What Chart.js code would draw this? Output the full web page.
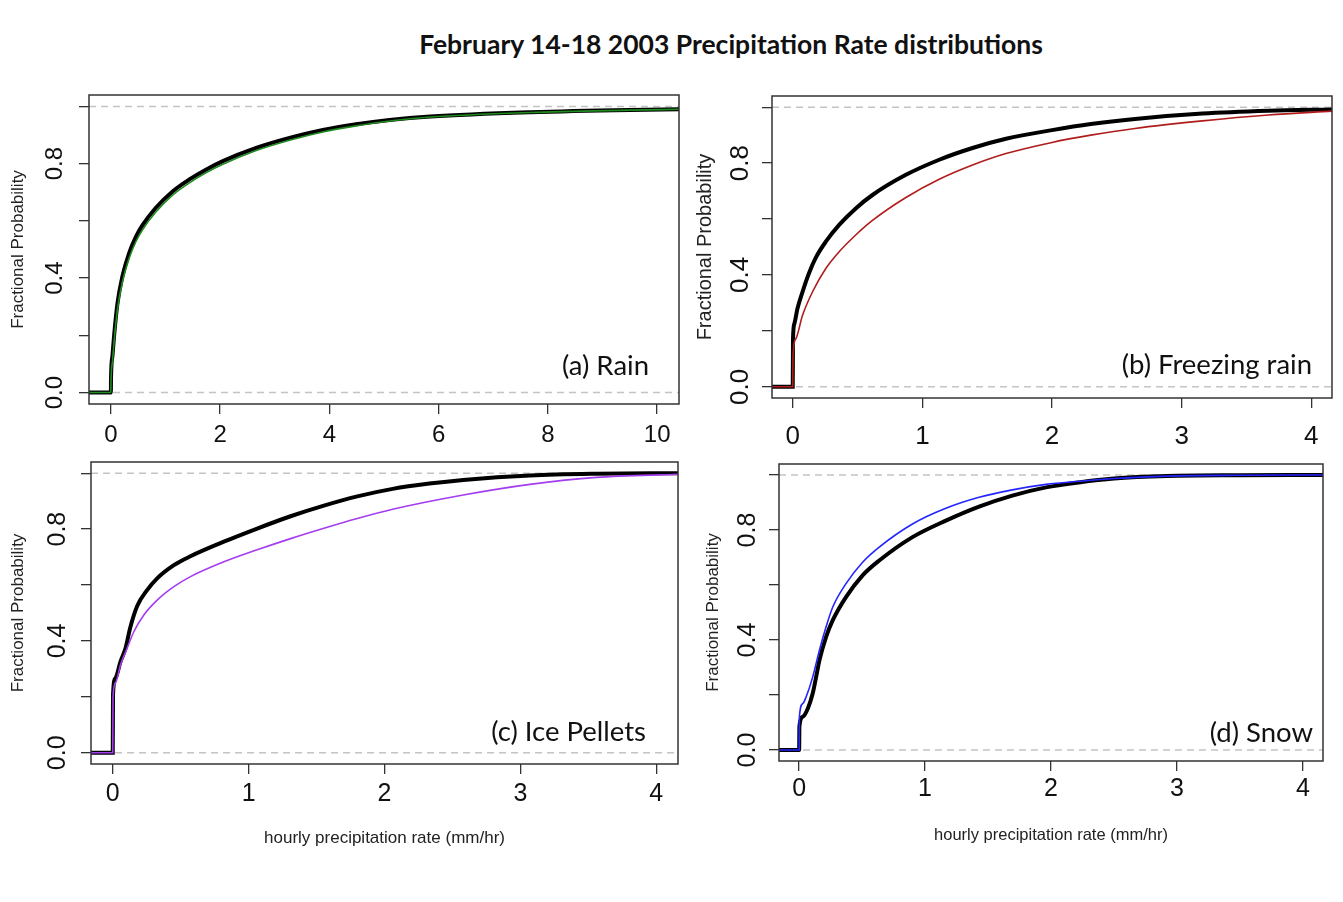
<!DOCTYPE html>
<html>
<head>
<meta charset="utf-8">
<script src="https://cdn.jsdelivr.net/npm/chart.js@4.4.0/dist/chart.umd.min.js"></script>
<style>
  body { margin: 0; background: #fff; width: 1343px; height: 902px; position: relative; overflow: hidden; }
  canvas { position: absolute; left: 0; top: 0; }
  #main_title { position: absolute; top: 28px; left: 731px; transform: translateX(-50%);
                font: bold 26.5px Lato, sans-serif; white-space: nowrap; color: #111; }
</style>
</head>
<body>
<div id="main_title">February 14-18 2003 Precipitation Rate distributions</div>
<canvas id="rain" width="1343" height="902"></canvas>
<canvas id="freezing" width="1343" height="902"></canvas>
<canvas id="pellets" width="1343" height="902"></canvas>
<canvas id="snow" width="1343" height="902"></canvas>
<script>
// Axis ticks
const yTicks = [0, 0.2, 0.4, 0.6, 0.8, 1.0];
const yLabels = [0, 0.4, 0.8];
const rainTicks = [0, 2, 4, 6, 8, 10];
const rateTicks = [0, 1, 2, 3, 4];

// (a) Rain - black and green curves (rate mm/hr, fractional probability)
const rainBlackX = [-0.4, 0, 0.003, 0.03, 0.06, 0.12, 0.21, 0.33, 0.46, 0.58, 0.82, 1.13, 1.43, 1.74, 2.04, 2.66, 3.27, 3.88, 4.49, 5.1, 5.85, 7.68, 9.5, 10.4];
const rainBlackP = [0, 0, 0.05, 0.13, 0.2, 0.31, 0.405, 0.485, 0.545, 0.585, 0.645, 0.703, 0.744, 0.779, 0.808, 0.855, 0.89, 0.918, 0.938, 0.953, 0.965, 0.98, 0.988, 0.99];
const rainGreenX = [-0.4, 0, 0.003, 0.03, 0.06, 0.12, 0.21, 0.33, 0.46, 0.58, 0.82, 1.13, 1.43, 1.74, 2.04, 2.66, 3.27, 3.88, 4.49, 5.1, 5.85, 7.68, 9.5, 10.4];
const rainGreenP = [0, 0, 0.04, 0.11, 0.18, 0.29, 0.385, 0.467, 0.528, 0.569, 0.63, 0.69, 0.732, 0.768, 0.797, 0.846, 0.882, 0.911, 0.932, 0.949, 0.963, 0.979, 0.987, 0.99];

// (b) Freezing rain - black and red curves
const frzBlackX = [-0.16, 0, 0.002, 0.012, 0.036, 0.075, 0.126, 0.178, 0.255, 0.358, 0.486, 0.615, 0.873, 1.13, 1.387, 1.645, 2.0, 2.3, 2.64, 3.16, 3.67, 4.16];
const frzBlackP = [0, 0, 0.17, 0.225, 0.279, 0.339, 0.407, 0.462, 0.519, 0.579, 0.638, 0.686, 0.758, 0.812, 0.854, 0.887, 0.918, 0.94, 0.958, 0.977, 0.987, 0.992];
const frzRedX = [-0.16, 0, 0.002, 0.023, 0.075, 0.152, 0.255, 0.358, 0.486, 0.615, 0.873, 1.13, 1.387, 1.645, 2.0, 2.3, 2.64, 3.16, 3.67, 4.16];
const frzRedP = [0, 0, 0.111, 0.171, 0.255, 0.339, 0.423, 0.483, 0.543, 0.595, 0.677, 0.742, 0.793, 0.834, 0.874, 0.9, 0.924, 0.951, 0.972, 0.986];

// (c) Ice pellets - black and purple curves
const iceBlackX = [-0.16, 0, 0.002, 0.02, 0.057, 0.094, 0.13, 0.18, 0.253, 0.327, 0.45, 0.572, 0.818, 1.063, 1.309, 1.554, 1.8, 2.06, 2.33, 2.58, 3.07, 3.56, 4.16];
const iceBlackP = [0, 0, 0.207, 0.267, 0.326, 0.374, 0.45, 0.525, 0.582, 0.624, 0.671, 0.703, 0.755, 0.802, 0.846, 0.884, 0.917, 0.944, 0.963, 0.976, 0.992, 0.998, 1.0];
const icePurpleX = [-0.16, 0, 0.002, 0.02, 0.057, 0.106, 0.155, 0.229, 0.327, 0.45, 0.572, 0.818, 1.063, 1.309, 1.554, 1.8, 2.06, 2.58, 3.07, 3.56, 4.16];
const icePurpleP = [0, 0, 0.2, 0.25, 0.314, 0.374, 0.433, 0.493, 0.546, 0.594, 0.63, 0.683, 0.726, 0.766, 0.803, 0.838, 0.871, 0.922, 0.96, 0.985, 0.996];

// (d) Snow - black and blue curves
const snowBlackX = [-0.16, 0, 0.002, 0.029, 0.069, 0.108, 0.135, 0.161, 0.214, 0.267, 0.372, 0.504, 0.636, 0.9, 1.165, 1.429, 1.693, 1.96, 2.22, 2.5, 2.92, 3.5, 4.16];
const snowBlackP = [0, 0, 0.085, 0.121, 0.151, 0.206, 0.266, 0.326, 0.411, 0.472, 0.556, 0.635, 0.689, 0.774, 0.834, 0.885, 0.925, 0.955, 0.973, 0.987, 0.996, 0.999, 1.0];
const snowBlueX = [-0.16, 0, 0.002, 0.029, 0.055, 0.108, 0.161, 0.214, 0.267, 0.372, 0.504, 0.636, 0.9, 1.165, 1.429, 1.693, 1.96, 2.22, 2.5, 2.92, 3.5, 4.16];
const snowBlueP = [0, 0, 0.121, 0.169, 0.193, 0.266, 0.363, 0.448, 0.52, 0.605, 0.683, 0.738, 0.822, 0.879, 0.919, 0.946, 0.966, 0.977, 0.987, 0.996, 0.999, 1.0];

const TICK_FONT = '"Liberation Sans", Arial, sans-serif';

// Draws the box, rotated y labels, x labels, axis titles and the panel name
const panel_text = {
  id: 'panel_text',
  afterDraw(chart) {
    const o = chart.options.plugins.panel_text;
    const ctx = chart.ctx, area = chart.chartArea;
    const xs = chart.scales.x, ys = chart.scales.y;
    ctx.save();
    ctx.strokeStyle = '#333';
    ctx.lineWidth = 1.5;
    ctx.strokeRect(area.left, area.top, area.right - area.left, area.bottom - area.top);

    ctx.fillStyle = '#111';
    ctx.textAlign = 'center';
    ctx.textBaseline = 'middle';
    ctx.font = o.tickSize + 'px ' + TICK_FONT;
    yLabels.forEach(v => {
      ctx.save();
      ctx.translate(area.left - o.yLabOff, ys.getPixelForValue(v));
      ctx.rotate(-Math.PI / 2);
      ctx.fillText(v.toFixed(1), 0, 0);
      ctx.restore();
    });
    o.xTicks.forEach(v => ctx.fillText(String(v), xs.getPixelForValue(v), area.bottom + o.xLabOff));

    // y title
    ctx.font = o.titleSize + 'px ' + TICK_FONT;
    ctx.fillStyle = '#222';
    ctx.save();
    ctx.translate(area.left - o.yTitleOff, (area.top + area.bottom) / 2);
    ctx.rotate(-Math.PI / 2);
    ctx.fillText('Fractional Probability', 0, 0);
    ctx.restore();
    if (o.xTitle) {
      ctx.font = o.xTitleSize + 'px ' + TICK_FONT;
      ctx.fillText(o.xTitle, (area.left + area.right) / 2, area.bottom + o.xTitleOff);
    }

    // panel name
    ctx.fillStyle = '#111';
    ctx.font = '27.5px Lato, sans-serif';
    ctx.textAlign = 'right';
    ctx.fillText(o.label, area.right - o.labRight, area.bottom - o.labUp);
    ctx.restore();
  }
};

function to_points(xs, ps) {
  return xs.map((x, i) => ({x: x, y: ps[i]}));
};

function make_panel(canvas_id, box, xMin, xMax, xTicks, blackX, blackP, colX, colP, colour, text) {

  const dash = y => ({
    data: [{x: xMin, y: y}, {x: xMax, y: y}],
    borderColor: '#c4c4c4', borderWidth: 1.6, borderDash: [7, 5],
    pointRadius: 0, order: 3
  });

  text.xTicks = xTicks;

  new Chart(document.getElementById(canvas_id), {
    type: 'line',
    data: {
      datasets: [
        {
          data: to_points(colX, colP),
          borderColor: colour, borderWidth: 1.6,
          pointRadius: 0, cubicInterpolationMode: 'monotone', order: 1
        },
        {
          data: to_points(blackX, blackP),
          borderColor: '#000', borderWidth: 4,
          pointRadius: 0, cubicInterpolationMode: 'monotone', order: 2
        },
        dash(0),
        dash(1)
      ]
    },
    options: {
      responsive: false,
      animation: false,
      events: [],
      layout: {
        padding: {left: box.l - 10, top: box.t, right: 1343 - box.r, bottom: 902 - box.b - 10}
      },
      plugins: {
        legend: {display: false},
        tooltip: {enabled: false},
        panel_text: text
      },
      scales: {
        x: {
          type: 'linear', min: xMin, max: xMax,
          afterBuildTicks: s => { s.ticks = xTicks.map(v => ({value: v})); },
          afterFit: s => { s.height = 10; },
          ticks: {display: false},
          grid: {drawOnChartArea: false, tickLength: 10, color: '#333', lineWidth: 1.3},
          border: {display: false}
        },
        y: {
          type: 'linear', min: -0.04, max: 1.04,
          afterBuildTicks: s => { s.ticks = yTicks.map(v => ({value: v})); },
          afterFit: s => { s.width = 10; },
          ticks: {display: false},
          grid: {drawOnChartArea: false, tickLength: 10, color: '#333', lineWidth: 1.3},
          border: {display: false}
        }
      }
    },
    plugins: [panel_text]
  });
};

make_panel('rain', {l: 89, t: 95, r: 679, b: 404}, -0.4, 10.4, rainTicks,
  rainBlackX, rainBlackP, rainGreenX, rainGreenP, '#1f8a1f',
  {label: '(a) Rain', labRight: 30, labUp: 38, tickSize: 24, yLabOff: 34, xLabOff: 31, titleSize: 17, yTitleOff: 71});

make_panel('freezing', {l: 772, t: 96, r: 1332, b: 398}, -0.16, 4.16, rateTicks,
  frzBlackX, frzBlackP, frzRedX, frzRedP, '#b01c1c',
  {label: '(b) Freezing rain', labRight: 20, labUp: 33, tickSize: 26, yLabOff: 31, xLabOff: 39, titleSize: 20, yTitleOff: 67});

make_panel('pellets', {l: 91, t: 462, r: 678, b: 764}, -0.16, 4.16, rateTicks,
  iceBlackX, iceBlackP, icePurpleX, icePurpleP, '#a43cf0',
  {label: '(c) Ice Pellets', labRight: 32, labUp: 32, tickSize: 25, yLabOff: 33, xLabOff: 30, titleSize: 17, yTitleOff: 73,
   xTitle: 'hourly precipitation rate (mm/hr)', xTitleSize: 17, xTitleOff: 74});

make_panel('snow', {l: 779, t: 464, r: 1323, b: 761}, -0.16, 4.16, rateTicks,
  snowBlackX, snowBlackP, snowBlueX, snowBlueP, '#2424ff',
  {label: '(d) Snow', labRight: 10, labUp: 28, tickSize: 25, yLabOff: 31, xLabOff: 28, titleSize: 17, yTitleOff: 66,
   xTitle: 'hourly precipitation rate (mm/hr)', xTitleSize: 16.5, xTitleOff: 74});
</script>
</body>
</html>
